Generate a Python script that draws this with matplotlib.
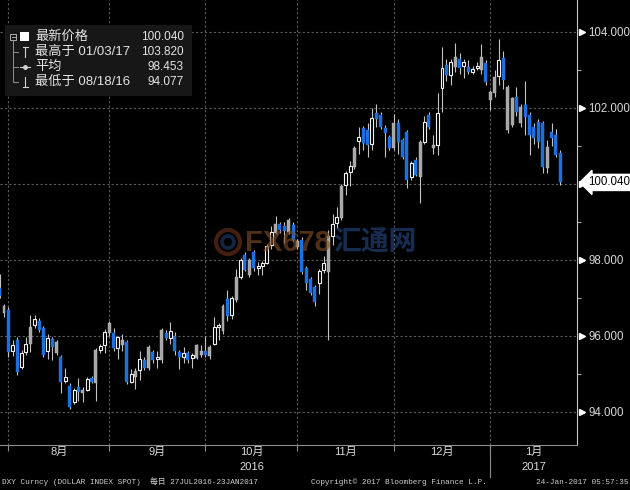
import numpy as np
import pandas as pd
import matplotlib
matplotlib.use("Agg")
import matplotlib.pyplot as plt
from matplotlib.transforms import blended_transform_factory
from matplotlib.patches import Rectangle, Circle

plt.rcParams['font.family'] = ['Liberation Sans', 'Noto Sans CJK SC']

# DXY daily candles, 27 Jul 2016 - 23 Jan 2017
dates = pd.bdate_range('2016-07-27', '2017-01-23')
opens = [97.26, 96.60, 96.68, 95.60, 95.90, 95.18, 95.58, 95.78, 96.30, 96.40,
         96.20, 95.60, 95.92, 95.55, 95.45, 94.81, 94.68, 94.26, 94.66, 94.50,
         94.58, 94.90, 94.76, 95.64, 95.75, 96.08, 96.08, 95.68, 95.76, 95.84,
         94.80, 94.92, 95.10, 95.37, 95.15, 95.58, 95.38, 95.37, 96.08, 95.95,
         96.00, 95.58, 95.45, 95.55, 95.42, 95.42, 95.50, 95.60, 95.47, 95.80,
         96.24, 96.13, 96.97, 96.55, 96.95, 97.56, 98.13, 97.60, 98.20, 97.80,
         97.85, 97.92, 98.38, 98.72, 98.95, 98.90, 98.73, 98.92, 98.35, 98.53,
         97.79, 97.50, 97.29, 97.40, 97.74, 97.68, 98.63, 98.96, 99.11, 99.96,
         100.31, 100.45, 101.13, 101.47, 101.42, 101.04, 101.87, 101.82, 101.47, 101.24,
         100.94, 101.60, 101.16, 101.37, 100.18, 100.63, 100.18, 101.11, 101.82, 100.95,
         101.03, 102.53, 103.13, 102.87, 103.08, 103.30, 103.10, 103.08, 102.95, 103.05,
         103.00, 103.18, 102.21, 102.39, 102.83, 103.32, 101.42, 101.55, 102.29, 101.60,
         102.08, 101.82, 101.50, 101.63, 101.60, 100.42, 101.37, 101.29, 100.82]
highs = [97.62, 96.85, 96.75, 95.90, 95.98, 95.62, 95.97, 96.55, 96.55, 96.48,
         96.25, 96.05, 95.98, 95.90, 95.50, 95.16, 94.75, 94.62, 94.90, 94.66,
         94.92, 94.95, 95.68, 95.80, 96.18, 96.38, 96.20, 96.00, 96.05, 95.88,
         95.13, 95.15, 95.60, 95.45, 95.75, 95.62, 95.60, 96.20, 96.15, 96.37,
         96.10, 95.62, 95.70, 95.60, 95.55, 95.80, 95.76, 96.00, 95.75, 96.50,
         96.35, 96.85, 97.20, 97.05, 97.75, 98.05, 98.20, 98.05, 98.25, 97.95,
         97.97, 98.42, 98.90, 99.16, 99.00, 99.00, 99.10, 99.00, 98.55, 98.60,
         97.85, 97.55, 97.35, 97.76, 98.10, 98.80, 99.20, 99.40, 100.00, 100.35,
         100.60, 101.00, 101.50, 101.52, 101.60, 102.00, 102.10, 101.90, 101.55, 101.30,
         101.85, 101.70, 101.22, 101.42, 100.60, 100.72, 101.15, 101.80, 101.88, 101.30,
         102.40, 103.60, 103.30, 103.30, 103.71, 103.45, 103.30, 103.25, 103.10, 103.20,
         103.68, 103.25, 102.47, 103.00, 103.82, 103.50, 102.60, 102.30, 102.55, 102.10,
         102.70, 101.90, 101.60, 101.70, 101.65, 101.16, 101.60, 101.45, 100.88]
lows = [97.00, 96.50, 95.45, 95.47, 94.98, 95.12, 95.50, 95.57, 96.20, 96.10,
        95.45, 95.40, 95.37, 95.50, 94.50, 94.76, 94.077, 94.20, 94.30, 94.26,
        94.55, 94.75, 94.30, 95.55, 95.55, 96.00, 95.60, 95.40, 95.60, 94.74,
        94.76, 94.60, 94.84, 95.10, 95.10, 95.30, 95.16, 95.30, 95.88, 95.80,
        95.50, 95.13, 95.30, 95.30, 95.16, 95.38, 95.45, 95.45, 95.40, 95.75,
        95.90, 96.05, 96.40, 96.45, 96.90, 97.50, 97.70, 97.55, 97.72, 97.60,
        97.60, 97.88, 98.30, 98.68, 98.72, 98.45, 98.68, 98.50, 98.30, 97.62,
        97.20, 97.08, 96.80, 97.10, 97.65, 95.90, 98.40, 98.85, 99.05, 99.70,
        99.95, 100.40, 100.80, 100.90, 100.70, 100.90, 101.50, 101.45, 100.70, 100.90,
        100.90, 100.80, 100.65, 99.90, 100.10, 100.20, 99.50, 101.05, 101.45, 100.80,
        100.76, 101.90, 102.70, 102.60, 102.95, 102.90, 102.80, 102.90, 102.90, 103.00,
        102.90, 102.60, 101.95, 102.30, 102.60, 102.50, 101.35, 101.50, 101.80, 101.50,
        101.30, 100.76, 101.05, 100.95, 100.30, 100.30, 101.00, 100.70, 99.98]
closes = [97.05, 96.79, 95.58, 95.76, 95.06, 95.56, 95.80, 96.24, 96.45, 96.16,
          95.50, 95.95, 95.70, 95.85, 94.80, 94.92, 94.13, 94.58, 94.53, 94.57,
          94.87, 94.79, 95.63, 95.74, 96.10, 96.34, 95.67, 95.97, 95.89, 94.78,
          95.00, 95.09, 95.40, 95.16, 95.70, 95.37, 95.44, 96.16, 95.94, 96.13,
          95.60, 95.44, 95.55, 95.37, 95.50, 95.76, 95.60, 95.50, 95.70, 96.23,
          96.30, 96.80, 96.53, 97.00, 97.55, 98.00, 97.74, 98.00, 97.78, 97.84,
          97.91, 98.37, 98.74, 98.95, 98.80, 98.75, 99.05, 98.53, 98.50, 97.68,
          97.40, 97.13, 96.90, 97.72, 97.92, 98.62, 98.95, 99.13, 99.95, 100.30,
          100.47, 100.95, 101.24, 101.08, 101.03, 101.74, 101.70, 101.50, 101.34, 100.95,
          101.60, 101.10, 100.71, 100.10, 100.55, 100.24, 101.10, 101.63, 101.50, 101.02,
          101.87, 103.05, 102.86, 103.21, 103.34, 103.05, 103.20, 102.94, 103.03, 103.10,
          103.34, 102.68, 102.42, 102.82, 103.26, 102.74, 102.55, 102.26, 101.90, 102.03,
          101.76, 101.29, 101.20, 101.10, 100.44, 100.97, 101.20, 100.76, 100.04]
avg_value = 98.453
y_ticks = [94, 96, 98, 100, 102, 104]
y_minor = [95, 97, 99, 101, 103]
month_names = {1: '1月', 8: '8月', 9: '9月', 10: '10月', 11: '11月', 12: '12月'}

O = np.array(opens)
H = np.array(highs)
L = np.array(lows)
C = np.array(closes)
x = np.arange(len(dates))
prev = np.r_[np.nan, C[:-1]]
down = C < O
gap_up = (~down) & (O < prev)      # up candle that opened below previous close
up = (~down) & ~gap_up

fig = plt.figure(figsize=(6.3, 4.9), dpi=100, facecolor='black')
ax = fig.add_axes([0, 45 / 490, 577 / 630, 445 / 490], facecolor='black')
ax.set_xlim(0.087, 131.82)
ax.set_ylim(93.13, 104.84)

# month boundaries
months = dates.month
starts = [i for i in range(1, len(dates)) if months[i] != months[i - 1]]
bounds = [s - 1 for s in starts]

for v in y_ticks:
    ax.axhline(v, color='#5c5c5c', lw=0.8, ls=(0, (2, 2)), zorder=0)
for b in bounds:
    ax.axvline(b, color='#5c5c5c', lw=0.8, ls=(0, (2, 2)), zorder=0)

# candles
ax.vlines(x, L, H, color='#c4c4c4', lw=0.8, zorder=2)
bottom = np.minimum(O, C)
height = np.maximum(np.abs(C - O), 0.03)
w = 0.68
ax.bar(x[down], height[down], bottom=bottom[down], width=w,
       color='#1f6fe0', edgecolor='#1f6fe0', lw=0.3, zorder=3)
ax.bar(x[gap_up], height[gap_up], bottom=bottom[gap_up], width=w,
       color='#a8a8a8', edgecolor='#b8b8b8', lw=0.3, zorder=3)
ax.bar(x[up], height[up], bottom=bottom[up], width=w,
       color='black', edgecolor='#f2f2f2', lw=0.8, zorder=3)

# spines
for s in ['top', 'left']:
    ax.spines[s].set_visible(False)
ax.spines['right'].set_color('#c8c8c8')
ax.spines['bottom'].set_color('#8c8c8c')

# right axis
ax.yaxis.tick_right()
ax.set_yticks(y_ticks)
ax.set_yticklabels(['' if abs(v - C[-1]) < 0.5 else f'{v:.3f}' for v in y_ticks])
ax.set_yticks(y_minor, minor=True)
ax.tick_params(axis='y', which='major', length=0, pad=8, labelcolor='#d8d8d8', labelsize=8.3)
ax.tick_params(axis='y', which='minor', length=3, width=0.8, color='#a0a0a0')
ty = blended_transform_factory(ax.transAxes, ax.transData)
ax.plot(np.full(len(y_ticks), 1.008), y_ticks, ls='none', marker='>', ms=4,
        color='white', transform=ty, clip_on=False)
ax.text(1.02, C[-1], f'{C[-1]:.3f}', transform=ty, ha='left', va='center',
        fontsize=8.3, color='black', clip_on=False, zorder=6,
        bbox=dict(boxstyle='larrow,pad=0.18', fc='white', ec='white'))

# bottom axis
ax.set_xticks(bounds)
ax.set_xticklabels([])
ax.tick_params(axis='x', length=4, width=0.8, color='#8c8c8c', direction='out')
tx = blended_transform_factory(ax.transData, ax.transAxes)
edges = bounds + [ax.get_xlim()[1]]
label_pos = {}
for k, s in enumerate(starts):
    xc = (edges[k] + edges[k + 1]) / 2
    m = months[s]
    label_pos[(dates[s].year, m)] = xc
    ax.text(xc, -0.016, month_names[m], transform=tx, ha='center', va='center',
            fontsize=8, color='#dcdcdc', clip_on=False)
for yr in sorted(set(k[0] for k in label_pos)):
    xs = [v for k, v in label_pos.items() if k[0] == yr]
    ax.text(xs[len(xs) // 2], -0.049, str(yr), transform=tx, ha='center', va='center',
            fontsize=8, color='#dcdcdc', clip_on=False)
year_break = [b for b, s in zip(bounds, starts) if dates[s].month == 1]
for b in year_break:
    ax.plot([b, b], [0, -0.072], transform=tx, color='#8c8c8c', lw=0.8, clip_on=False)

# overlay in pixel coordinates for legend, watermark and footer
ov = fig.add_axes([0, 0, 1, 1])
ov.set_xlim(0, 630)
ov.set_ylim(490, 0)
ov.axis('off')

ov.add_patch(Rectangle((5, 25), 187, 71, fc='#171717', ec='none'))
ov.add_patch(Rectangle((10, 34), 6, 6, fc='none', ec='#b0b0b0', lw=0.7))
ov.plot([11.5, 14.5], [37, 37], color='#b0b0b0', lw=0.7)
ov.add_patch(Rectangle((19.5, 32.5), 9, 9, fc='white', ec='none'))
ov.plot([13, 13], [40, 82], color='#909090', lw=0.7)
for yy in [52, 67, 82]:
    ov.plot([13, 18], [yy, yy], color='#909090', lw=0.7)
ov.plot([22.5, 27.5], [47, 47], color='#d0d0d0', lw=0.8)
ov.plot([25, 25], [47, 57], color='#d0d0d0', lw=0.8)
ov.plot([20, 30], [67, 67], color='#d0d0d0', lw=0.8)
ov.plot([25], [67], marker='o', ms=2.5, color='#d0d0d0')
ov.plot([25, 25], [77, 87], color='#d0d0d0', lw=0.8)
ov.plot([22.5, 27.5], [87, 87], color='#d0d0d0', lw=0.8)

i_hi = int(np.argmax(H))
i_lo = int(np.argmin(L))
rows = [('最新价格', f'{C[-1]:.3f}'),
        (f'最高于 {dates[i_hi]:%m/%d/%y}', f'{H[i_hi]:.3f}'),
        ('平均', f'{avg_value:.3f}'),
        (f'最低于 {dates[i_lo]:%m/%d/%y}', f'{L[i_lo]:.3f}')]
for (lab, val), yy in zip(rows, [37, 52, 67, 82]):
    ov.text(35, yy, lab, fontsize=9.5, color='#e4e4e4', va='center', ha='left')
    ov.text(184, yy, val, fontsize=8.5, color='#e4e4e4', va='center', ha='right')

# watermark
ov.add_patch(Circle((228, 242), 12, fill=False, ec='#7a3a1e', lw=3, alpha=0.55))
ov.add_patch(Circle((228, 242), 6, fill=False, ec='#23477f', lw=2.5, alpha=0.55))
ov.text(245, 243, 'FX678', fontsize=21, fontweight='bold', color='#7c4a22',
        alpha=0.65, va='center', ha='left')
ov.text(333, 243, '汇通网', fontsize=20, fontweight='bold', color='#22457e',
        alpha=0.65, va='center', ha='left', family=['Noto Sans CJK SC'])

# footer
mono = ['Liberation Mono', 'Noto Sans CJK SC']
span = f'{dates[0]:%d%b%Y}-{dates[-1]:%d%b%Y}'.upper()
ov.text(2, 482, f'DXY Curncy (DOLLAR INDEX SPOT)  每日 {span}', fontsize=5.6,
        family=mono, color='#cfcfcf', va='center', ha='left')
ov.text(311, 482, 'Copyright© 2017 Bloomberg Finance L.P.', fontsize=5.6,
        family=mono, color='#cfcfcf', va='center', ha='left')
ov.text(628, 482, '24-Jan-2017 05:57:35', fontsize=5.6,
        family=mono, color='#cfcfcf', va='center', ha='right')

fig.savefig('out.png', dpi=100, facecolor='black')
